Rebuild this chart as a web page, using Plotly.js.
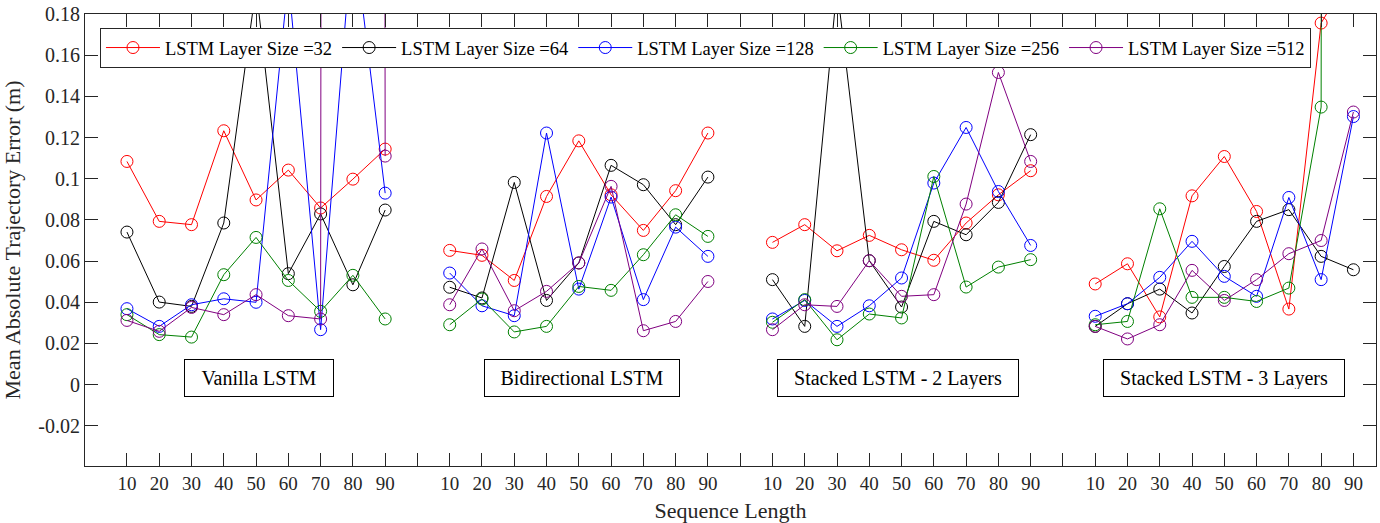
<!DOCTYPE html>
<html>
<head>
<meta charset="utf-8">
<script src="https://cdn.plot.ly/plotly-3.0.1.min.js"></script>
<style>html,body{margin:0;padding:0;background:#fff;}#chart{width:1380px;height:523px;}</style>
</head>
<body>
<div id="chart"></div>
<script>
// ---- data ----
const seqLengths = [10, 20, 30, 40, 50, 60, 70, 80, 90];
const modelNames = ['Vanilla LSTM', 'Bidirectional LSTM', 'Stacked LSTM - 2 Layers', 'Stacked LSTM - 3 Layers'];
const layerSizes = ['32', '64', '128', '256', '512'];

// values per model group (Vanilla, Bidirectional, Stacked-2, Stacked-3), seq length 10..90
const size32 = [
  [0.1084, 0.0793, 0.0777, 0.1233, 0.0897, 0.1042, 0.0858, 0.0998, 0.1144],
  [0.0652, 0.0628, 0.0506, 0.0914, 0.1184, 0.0922, 0.0749, 0.0942, 0.1222],
  [0.0691, 0.0777, 0.0650, 0.0725, 0.0655, 0.0604, 0.0785, 0.0922, 0.1039],
  [0.0489, 0.0587, 0.0329, 0.0917, 0.1108, 0.0841, 0.0367, 0.1756, 0.2020]
];
const size64 = [
  [0.0741, 0.0401, 0.0380, 0.0785, 0.1930, 0.0539, 0.0829, 0.0485, 0.0848],
  [0.0473, 0.0421, 0.0982, 0.0409, 0.0591, 0.1065, 0.0971, 0.0777, 0.1008],
  [0.0510, 0.0283, 0.1930, 0.0602, 0.0377, 0.0793, 0.0728, 0.0885, 0.1214],
  [0.0283, 0.0393, 0.0464, 0.0348, 0.0574, 0.0793, 0.0850, 0.0623, 0.0558]
];
const size128 = [
  [0.0369, 0.0283, 0.0388, 0.0417, 0.0400, 0.1970, 0.0267, 0.2220, 0.0930],
  [0.0542, 0.0383, 0.0335, 0.1222, 0.0464, 0.0911, 0.0413, 0.0765, 0.0623],
  [0.0319, 0.0409, 0.0283, 0.0383, 0.0518, 0.0979, 0.1249, 0.0938, 0.0676],
  [0.0332, 0.0393, 0.0521, 0.0696, 0.0526, 0.0429, 0.0909, 0.0510, 0.1302]
];
const size256 = [
  [0.0340, 0.0243, 0.0231, 0.0534, 0.0715, 0.0506, 0.0356, 0.0531, 0.0319],
  [0.0291, 0.0416, 0.0256, 0.0283, 0.0477, 0.0458, 0.0631, 0.0825, 0.0720],
  [0.0303, 0.0413, 0.0218, 0.0343, 0.0324, 0.1011, 0.0474, 0.0571, 0.0607],
  [0.0291, 0.0307, 0.0854, 0.0424, 0.0424, 0.0404, 0.0469, 0.1348, 15.0]
];
const size512 = [
  [0.0312, 0.0259, 0.0375, 0.0340, 0.0437, 0.0335, 0.0319, 15.0, 0.1110],
  [0.0388, 0.0659, 0.0359, 0.0453, 0.0591, 0.0963, 0.0262, 0.0307, 0.0501],
  [0.0267, 0.0388, 0.0380, 0.0602, 0.0429, 0.0437, 0.0877, 0.1516, 0.1084],
  [0.0283, 0.0222, 0.0291, 0.0555, 0.0409, 0.0510, 0.0636, 0.0700, 0.1324]
];
const yTicks = [-0.02, 0, 0.02, 0.04, 0.06, 0.08, 0.1, 0.12, 0.14, 0.16, 0.18];
const yTickText = ['-0.02', '0', '0.02', '0.04', '0.06', '0.08', '0.1', '0.12', '0.14', '0.16', '0.18'];

// ---- build ----
const seriesValues = [size32, size64, size128, size256, size512];
const colors = ['#ff0000', '#000000', '#0000ff', '#008000', '#800080'];
const groupStride = seqLengths.length + 1;

function buildXY(groups) {
  const x = [], y = [];
  groups.forEach((vals, g) => {
    vals.forEach((v, i) => { x.push(g * groupStride + i + 1); y.push(v); });
    x.push(null); y.push(null);
  });
  return {x, y};
}

const traces = seriesValues.map((groups, k) => {
  const xy = buildXY(groups);
  return {
    type: 'scatter', mode: 'lines+markers',
    x: xy.x, y: xy.y, connectgaps: false,
    name: 'LSTM Layer Size =' + layerSizes[k],
    line: {color: colors[k], width: 1},
    marker: {symbol: 'circle-open', size: 12, color: colors[k], line: {width: 1, color: colors[k]}},
    cliponaxis: true
  };
});

const xTickVals = [], xTickText = [];
for (let g = 0; g < modelNames.length; g++) {
  seqLengths.forEach((s, i) => { xTickVals.push(g * groupStride + i + 1); xTickText.push(String(s)); });
  if (g < modelNames.length - 1) { xTickVals.push(g * groupStride + seqLengths.length + 1); xTickText.push(''); }
}

const boxWidths = [134, 180, 226, 226];
const boxCenters = [5.1, 15.1, 24.9, 35.0];
const annotations = modelNames.map((name, g) => ({
  x: boxCenters[g], y: 0.003, xref: 'x', yref: 'y',
  text: name, showarrow: false,
  font: {family: 'Liberation Serif, Times New Roman, serif', size: 20, color: '#000'},
  bordercolor: '#000', borderwidth: 1, borderpad: 7, bgcolor: '#fff',
  width: boxWidths[g], height: 22, xanchor: 'center', yanchor: 'middle'
}));

const axisColor = '#262626';
const fontFam = 'Liberation Serif, Times New Roman, serif';
const layout = {
  width: 1380, height: 523,
  margin: {l: 85, r: 4, t: 14, b: 57},
  paper_bgcolor: '#fff', plot_bgcolor: '#fff',
  font: {family: fontFam, color: axisColor},
  showlegend: true,
  legend: {
    orientation: 'h', x: 0.0116, y: 0.969, xanchor: 'left', yanchor: 'top',
    bgcolor: '#fff', bordercolor: axisColor, borderwidth: 1,
    font: {family: fontFam, size: 18.5, color: '#000'},
    itemwidth: 54
  },
  xaxis: {
    range: [-0.3, 39.7], tickvals: xTickVals, ticktext: xTickText,
    ticks: 'inside', ticklen: 13, tickcolor: axisColor, tickwidth: 1,
    showline: true, linecolor: axisColor, linewidth: 1, mirror: 'ticks',
    showgrid: false, zeroline: false,
    tickfont: {family: fontFam, size: 19, color: axisColor},
    title: {text: 'Sequence Length', font: {family: fontFam, size: 22, color: axisColor}, standoff: 10}
  },
  yaxis: {
    range: [-0.0395, 0.18], tickvals: yTicks, ticktext: yTickText,
    ticks: 'inside', ticklen: 13, tickcolor: axisColor, tickwidth: 1,
    showline: true, linecolor: axisColor, linewidth: 1, mirror: 'ticks',
    showgrid: false, zeroline: false,
    tickfont: {family: fontFam, size: 20, color: axisColor},
    title: {text: 'Mean Absolute Trajectory Error (m)', font: {family: fontFam, size: 22, color: axisColor}, standoff: 14}
  },
  annotations: annotations
};

Plotly.newPlot('chart', traces, layout, {displayModeBar: false, staticPlot: true});
</script>
</body>
</html>
